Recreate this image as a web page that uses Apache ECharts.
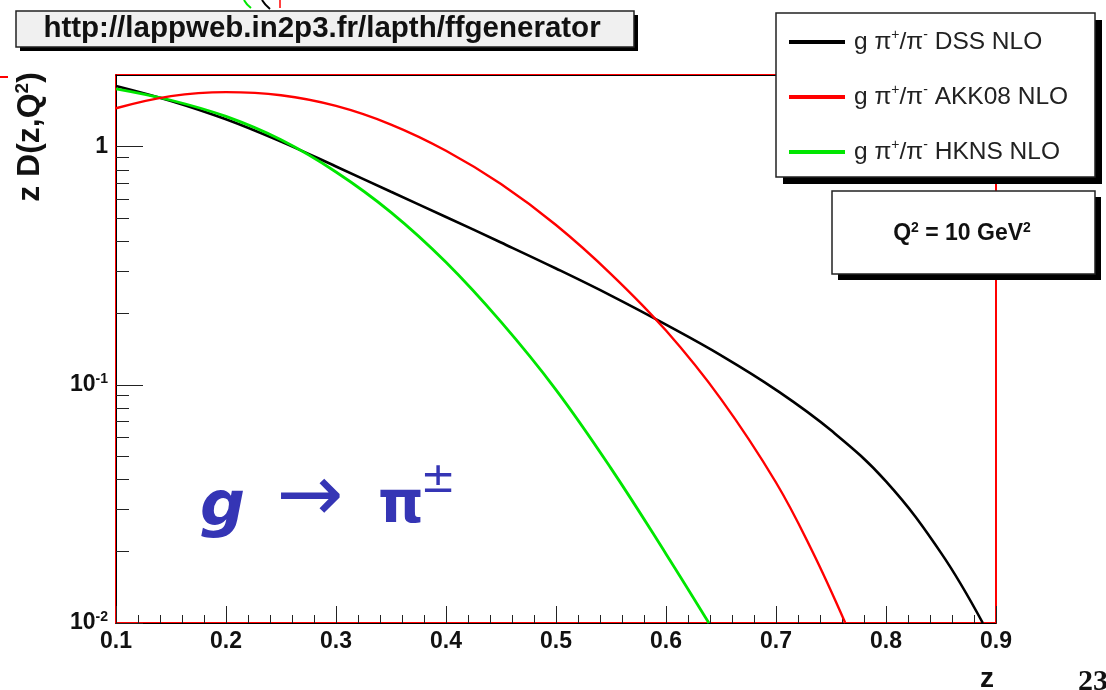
<!DOCTYPE html>
<html>
<head>
<meta charset="utf-8">
<script src="https://cdn.jsdelivr.net/npm/echarts@6/dist/echarts.min.js"></script>
<style>
  html, body { margin: 0; padding: 0; background: #ffffff; }
  #chart { width: 1106px; height: 690px; }
</style>
</head>
<body>
<div id="chart"></div>
<script>
// Gluon -> charged pion fragmentation functions z D(z, Q^2) at Q^2 = 10 GeV^2
const zDSS  = [0.10, 0.15, 0.20, 0.25, 0.30, 0.35, 0.40, 0.45, 0.50, 0.55, 0.60, 0.65, 0.70, 0.75, 0.80, 0.85, 0.888];
const dss   = [1.80, 1.556, 1.303, 1.050, 0.826, 0.647, 0.507, 0.396, 0.308, 0.237, 0.179, 0.133, 0.0953, 0.0644, 0.0393, 0.0197, 0.010];

const zAKK  = [0.10, 0.15, 0.20, 0.25, 0.30, 0.35, 0.40, 0.45, 0.50, 0.55, 0.60, 0.65, 0.70, 0.733, 0.763];
const akk   = [1.45, 1.63, 1.694, 1.644, 1.483, 1.239, 0.962, 0.697, 0.469, 0.292, 0.169, 0.0871, 0.0389, 0.0200, 0.010];

const zHKNS = [0.10, 0.15, 0.20, 0.25, 0.30, 0.35, 0.40, 0.45, 0.50, 0.55, 0.60, 0.639];
const hkns  = [1.75, 1.567, 1.340, 1.069, 0.783, 0.530, 0.327, 0.1837, 0.0953, 0.0446, 0.0195, 0.010];

const seriesNames = ['DSS NLO', 'AKK08 NLO', 'HKNS NLO'];
const seriesColors = ['#000000', '#ff0000', '#00e600'];

const yMajor = [0.01, 0.1, 1];
const yMinor = [0.02, 0.03, 0.04, 0.05, 0.06, 0.07, 0.08, 0.09,
                0.2, 0.3, 0.4, 0.5, 0.6, 0.7, 0.8, 0.9];

const headerText = 'http://lappweb.in2p3.fr/lapth/ffgenerator';
const FONT = '"Liberation Sans", Arial, sans-serif';
const BLUE = '#3535b5';

const zip = (xs, ys) => xs.map((x, i) => [x, ys[i]]);

const chart = echarts.init(document.getElementById('chart'), null, { renderer: 'canvas' });

function line(name, xs, ys, color, width) {
  return {
    name: name,
    type: 'line',
    data: zip(xs, ys),
    symbol: 'none',
    smooth: 0.4,
    clip: true,
    lineStyle: { color: color, width: width },
    itemStyle: { color: color },
    z: 3
  };
}

// boxes with a hard drop shadow
function shadowBox(x, y, w, h, off, fill, z) {
  return [
    { type: 'rect', shape: { x: x + off, y: y + off, width: w, height: h },
      style: { fill: '#000' }, z: z, silent: true },
    { type: 'rect', shape: { x: x, y: y, width: w, height: h },
      style: { fill: fill, stroke: '#222', lineWidth: 1.5 }, z: z + 1, silent: true }
  ];
}

const option = {
  backgroundColor: '#ffffff',
  animation: false,
  grid: {
    left: 116, right: 110, top: 75, bottom: 67,
    show: true, borderColor: '#ff0000', borderWidth: 2, backgroundColor: 'transparent'
  },
  legend: {
    orient: 'vertical',
    left: 789, top: 28,
    itemWidth: 56, itemHeight: 4, itemGap: 27,
    padding: 0,
    icon: 'rect',
    data: seriesNames,
    z: 20,
    formatter: n => 'g {p|π}{s|+}{p|/π}{s|-} ' + n,
    textStyle: {
      fontFamily: FONT, fontSize: 24.5, color: '#222', lineHeight: 28,
      padding: [0, 0, 0, 4],
      rich: {
        p: { fontFamily: FONT, fontSize: 24.5, color: '#222', lineHeight: 28 },
        s: { fontFamily: FONT, fontSize: 14, color: '#222', lineHeight: 14, verticalAlign: 'top' }
      }
    }
  },
  xAxis: [{
    type: 'value', min: 0.1, max: 0.9, interval: 0.1, position: 'bottom',
    axisLine: { show: true, onZero: false, lineStyle: { color: '#000', width: 1 } },
    axisTick: { show: true, inside: true, length: 17, lineStyle: { color: '#222', width: 1 } },
    minorTick: { show: true, splitNumber: 5, length: 8, lineStyle: { color: '#222', width: 1 } },
    splitLine: { show: false },
    axisLabel: {
      formatter: v => v.toFixed(1),
      fontFamily: FONT, fontSize: 23, fontWeight: 'bold', color: '#111', margin: 7
    }
  }, {
    type: 'value', min: 0.1, max: 0.9, position: 'top',
    axisLine: { show: true, lineStyle: { color: '#000', width: 1 } },
    axisTick: { show: false }, axisLabel: { show: false }, splitLine: { show: false }
  }],
  yAxis: [{
    type: 'log', logBase: 10, min: 0.01, max: 2, position: 'left',
    axisLine: { show: true, lineStyle: { color: '#000', width: 1 } },
    axisTick: { show: true, inside: true, length: 27, customValues: yMajor, lineStyle: { color: '#222', width: 1 } },
    splitLine: { show: false },
    axisLabel: {
      customValues: yMajor,
      margin: 8,
      formatter: v => {
        const e = Math.round(Math.log10(v));
        return e === 0 ? '{b|1}' : '{b|10}{s|' + e + '}';
      },
      rich: {
        b: { fontFamily: FONT, fontSize: 23, fontWeight: 'bold', color: '#111', lineHeight: 26 },
        s: { fontFamily: FONT, fontSize: 14, fontWeight: 'bold', color: '#111', lineHeight: 14, verticalAlign: 'top' }
      }
    }
  }, {
    type: 'log', logBase: 10, min: 0.01, max: 2, position: 'left', offset: 0,
    axisLine: { show: false },
    axisTick: { show: true, inside: true, length: 13, customValues: yMinor, lineStyle: { color: '#222', width: 1 } },
    axisLabel: { show: false },
    splitLine: { show: false }
  }],
  series: [
    line(seriesNames[0], zDSS, dss, seriesColors[0], 2.6),
    line(seriesNames[2], zHKNS, hkns, seriesColors[2], 2.8),
    line(seriesNames[1], zAKK, akk, seriesColors[1], 2.4)
  ],
  graphic: [
    // header banner
    ...shadowBox(16, 11, 618, 36, 4, '#f0f0f0', 10),
    { type: 'text', x: 322, y: 29, z: 12, silent: true,
      style: { text: headerText, fontFamily: FONT, fontSize: 29.5, fontWeight: 'bold',
               fill: '#111', align: 'center', verticalAlign: 'middle' } },
    // legend frame
    ...shadowBox(776, 13, 319, 164, 7, '#ffffff', 15),
    // Q^2 box
    ...shadowBox(832, 191, 263, 83, 6, '#ffffff', 15),
    { type: 'text', x: 962, y: 234, z: 17, silent: true,
      style: { text: '{b|Q}{s|2}{b| = 10 GeV}{s|2}', align: 'center', verticalAlign: 'middle',
               rich: {
                 b: { fontFamily: FONT, fontSize: 23, fontWeight: 'bold', fill: '#111', lineHeight: 26 },
                 s: { fontFamily: FONT, fontSize: 14, fontWeight: 'bold', fill: '#111', lineHeight: 14, verticalAlign: 'top' }
               } } },
    // y-axis title
    { type: 'text', x: 30, y: 137, rotation: Math.PI / 2, z: 12, silent: true,
      style: { text: '{t|z D(z,Q}{s|2}{t|)}', align: 'center', verticalAlign: 'middle',
               rich: {
                 t: { fontFamily: FONT, fontSize: 32, fontWeight: 'bold', fill: '#111', lineHeight: 34 },
                 s: { fontFamily: FONT, fontSize: 19, fontWeight: 'bold', fill: '#111', lineHeight: 19, verticalAlign: 'top' }
               } } },
    // x-axis title
    { type: 'text', x: 987, y: 679, z: 12, silent: true,
      style: { text: 'z', fontFamily: FONT, fontSize: 28, fontWeight: 'bold', fill: '#111',
               align: 'center', verticalAlign: 'middle' } },
    // page number
    { type: 'text', x: 1078, y: 697, z: 12, silent: true,
      style: { text: '23', fontFamily: '"Liberation Serif", "DejaVu Serif", serif', fontSize: 30,
               fontWeight: 'bold', fill: '#111', align: 'left', verticalAlign: 'bottom' } },
    // process label
    { type: 'text', x: 200, y: 509, z: 12, silent: true,
      style: { text: 'g', fontFamily: '"DejaVu Sans", sans-serif', fontSize: 63, fontWeight: 'bold',
               fontStyle: 'italic', fill: BLUE, align: 'left', verticalAlign: 'middle' } },
    { type: 'text', x: 310, y: 500, z: 12, silent: true,
      style: { text: '→', fontFamily: '"DejaVu Sans", sans-serif', fontSize: 80,
               fill: BLUE, align: 'center', verticalAlign: 'middle' } },
    { type: 'text', x: 378, y: 507, z: 12, silent: true,
      style: { text: 'π', fontFamily: '"DejaVu Sans", sans-serif', fontSize: 58, fontWeight: 'bold',
               fill: BLUE, align: 'left', verticalAlign: 'middle' } },
    { type: 'text', x: 438, y: 481, z: 12, silent: true,
      style: { text: '±', fontFamily: '"DejaVu Sans", sans-serif', fontSize: 42,
               fill: BLUE, align: 'center', verticalAlign: 'middle' } },
    // fragments of neighbouring drawings at the page edges
    { type: 'line', shape: { x1: 0, y1: 77, x2: 8, y2: 77 }, style: { stroke: '#ff0000', lineWidth: 2 }, z: 12, silent: true },
    { type: 'line', shape: { x1: 280, y1: 0, x2: 280, y2: 8 }, style: { stroke: '#ff0000', lineWidth: 1.5 }, z: 12, silent: true },
    { type: 'bezierCurve', shape: { x1: 244, y1: 0, x2: 251, y2: 8, cpx1: 246, cpy1: 4 }, style: { stroke: '#00e600', lineWidth: 2, fill: 'none' }, z: 12, silent: true },
    { type: 'bezierCurve', shape: { x1: 262, y1: 0, x2: 270, y2: 9, cpx1: 265, cpy1: 5 }, style: { stroke: '#000', lineWidth: 2, fill: 'none' }, z: 12, silent: true }
  ]
};

chart.setOption(option);
</script>
</body>
</html>
